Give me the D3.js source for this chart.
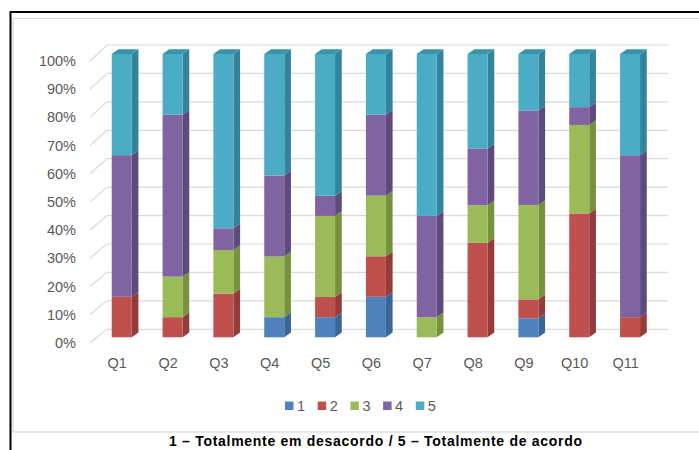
<!DOCTYPE html>
<html>
<head>
<meta charset="utf-8">
<script src="https://cdn.jsdelivr.net/npm/d3@7"></script>
<style>
  body { margin: 0; background: #fff; }
  svg text { font-family: "Liberation Sans", Arial, sans-serif; }
</style>
</head>
<body>
<div id="chart"></div>
<script>
// Categories and series (percent of answers per question)
const categories = ['Q1', 'Q2', 'Q3', 'Q4', 'Q5', 'Q6', 'Q7', 'Q8', 'Q9', 'Q10', 'Q11'];
const seriesNames = ['1', '2', '3', '4', '5'];
const s1 = [0, 0, 0, 7.1, 7.1, 14.3, 0, 0, 6.7, 0, 0];
const s2 = [14.3, 7.1, 15.4, 0, 7.1, 14.3, 0, 33.3, 6.7, 43.8, 7.1];
const s3 = [0, 14.3, 15.4, 21.4, 28.6, 21.4, 7.1, 13.3, 33.3, 31.3, 0];
const s4 = [50, 57.1, 7.7, 28.6, 7.1, 28.6, 35.7, 20, 33.3, 6.3, 57.1];
const s5 = [35.7, 21.4, 61.5, 42.9, 50, 21.4, 57.1, 33.3, 20, 18.8, 35.7];
const yTicks = [0, 0.1, 0.2, 0.3, 0.4, 0.5, 0.6, 0.7, 0.8, 0.9, 1];
const footnote = '1 \u2013 Totalmente em desacordo / 5 \u2013 Totalmente de acordo';

const frontColors = ['#4F81BD', '#C0504D', '#9BBB59', '#8064A2', '#4BACC6'];
const sideColors  = ['#3A6595', '#943C3A', '#76923C', '#5E4A7C', '#31849B'];
const topColors   = ['#4373AA', '#AA4542', '#88A54C', '#6F5690', '#3B93AA'];

const width = 699, height = 450;
const depthX = 6.7, depthY = 4.7;

const rows = categories.map((c, i) => ({
  cat: c, '1': s1[i], '2': s2[i], '3': s3[i], '4': s4[i], '5': s5[i]
}));
const stacked = d3.stack().keys(seriesNames).offset(d3.stackOffsetExpand)(rows);

const svg = d3.select('#chart').append('svg')
  .attr('width', width)
  .attr('height', height);

// frames
svg.append('rect')
  .attr('x', 13).attr('y', 18.5)
  .attr('width', 720).attr('height', 413.5)
  .attr('fill', 'none')
  .attr('stroke', '#d9d9d9')
  .attr('stroke-width', 1.2);
svg.append('rect')
  .attr('x', 10.5).attr('y', 12)
  .attr('width', 730).attr('height', 480)
  .attr('fill', 'none')
  .attr('stroke', '#000')
  .attr('stroke-width', 2);

// scales
const x = d3.scaleBand()
  .domain(categories)
  .range([91.4, 660.4])
  .paddingInner(0.6065)
  .paddingOuter(0.4);
const yFront = d3.scaleLinear().domain([0, 1]).range([337.3, 54]);
const yLabel = d3.scaleLinear().domain([0, 1]).range([342.7, 61]);
const yBack = d3.scaleLinear().domain([0, 1]).range([329.3, 45]);

// gridlines on back wall + floor diagonals
const grid = svg.append('g').attr('class', 'grid');
yTicks.forEach(v => {
  grid.append('path')
    .attr('d', `M90,${yLabel(v)} L107,${yBack(v)} L668,${yBack(v)}`)
    .attr('fill', 'none')
    .attr('stroke', '#d9d9d9')
    .attr('stroke-width', 1.2);
});

// y axis labels
const yAxis = svg.append('g')
  .attr('transform', 'translate(80,0)')
  .call(d3.axisLeft(yLabel).tickValues(yTicks).tickFormat(d3.format('.0%')).tickSize(0).tickPadding(4));
yAxis.select('.domain').remove();
yAxis.selectAll('text')
  .attr('fill', '#595959')
  .style('font-size', '14.5px')
  .style('font-family', '"Liberation Sans", Arial, sans-serif');

// x axis labels
const xAxis = svg.append('g')
  .attr('transform', 'translate(-4.5,352)')
  .call(d3.axisBottom(x).tickSize(0).tickPadding(6));
xAxis.select('.domain').remove();
xAxis.selectAll('text')
  .attr('fill', '#595959')
  .style('font-size', '14.5px')
  .style('font-family', '"Liberation Sans", Arial, sans-serif');

// 3D bars
const bars = svg.append('g').attr('class', 'bars');
stacked.forEach((layer, si) => {
  layer.forEach((d, ci) => {
    if (d[1] - d[0] <= 0) return;
    const x0 = x(categories[ci]);
    const w = x.bandwidth();
    const yt = yFront(d[1]), yb = yFront(d[0]);
    // side face
    bars.append('path')
      .attr('d', `M${x0 + w},${yb} L${x0 + w + depthX},${yb - depthY} L${x0 + w + depthX},${yt - depthY} L${x0 + w},${yt} Z`)
      .attr('fill', sideColors[si]);
    // front face
    bars.append('rect')
      .attr('x', x0).attr('y', yt)
      .attr('width', w).attr('height', yb - yt)
      .attr('fill', frontColors[si]);
    // top face for topmost segment
    if (d[1] >= 0.9999) {
      bars.append('path')
        .attr('d', `M${x0},${yt} L${x0 + depthX},${yt - depthY} L${x0 + w + depthX},${yt - depthY} L${x0 + w},${yt} Z`)
        .attr('fill', topColors[si]);
    }
  });
});

// legend
const legend = svg.append('g').attr('transform', 'translate(285,401.5)');
seriesNames.forEach((name, i) => {
  const item = legend.append('g').attr('transform', `translate(${i * 32.7},0)`);
  item.append('rect')
    .attr('width', 8.5).attr('height', 8.5)
    .attr('fill', frontColors[i]);
  item.append('text')
    .attr('x', 12).attr('y', 9.5)
    .attr('fill', '#595959')
    .style('font-size', '14.5px')
    .text(name);
});

// footnote
svg.append('text')
  .attr('x', 375.5).attr('y', 446)
  .attr('text-anchor', 'middle')
  .attr('fill', '#000')
  .attr('textLength', 413)
  .attr('lengthAdjust', 'spacing')
  .style('font-size', '14px')
  .style('font-weight', 'bold')
  .text(footnote);
</script>
</body>
</html>
